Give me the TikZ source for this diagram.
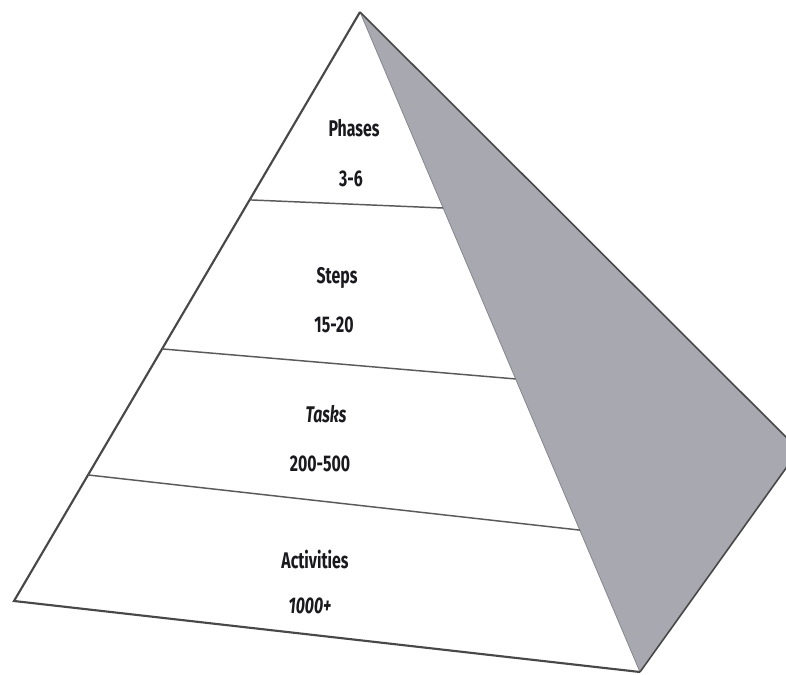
\documentclass[tikz,border=0pt]{standalone}
\usepackage{fontspec}
\setmainfont{Fira Sans}
\usetikzlibrary{calc}
\definecolor{facegrey}{RGB}{168,168,177}
\definecolor{edgegrey}{RGB}{72,72,72}
\definecolor{inkc}{RGB}{25,25,30}
\tikzset{
  edge/.style={draw=edgegrey, line width=1.6pt, line join=miter},
  divider/.style={draw=edgegrey!90, line width=1.1pt},
  lbl/.style={inner sep=0pt, text=inkc, font=\fontsize{17}{20}\selectfont\bfseries},
}
\newcommand{\cond}[1]{\scalebox{0.7}[1]{#1}}
\begin{document}
\begin{tikzpicture}[x=0.75pt, y=-0.75pt]
\useasboundingbox (0,0) rectangle (786,675);
\clip (0,0) rectangle (786,675);
\fill[white] (0,0) rectangle (786,675);
% corners
\coordinate (apex) at (360,12);
\coordinate (bl) at (14,601);
\coordinate (bf) at (640,672);
\coordinate (bb) at (799,450);
% grey side face
\fill[facegrey] (apex) -- (bb) -- (bf) -- cycle;
\draw[draw=facegrey!80!black, line width=0.6pt] (apex) -- (bf);
\draw[edge, line width=1.2pt] (apex) -- (bb) -- (bf);
% front face
\draw[edge] (bf) -- (bl) -- (apex);
% dividers
\coordinate (l1) at ($(apex)!0.319!(bl)$);
\coordinate (r1) at ($(apex)!0.297!(bf)$);
\coordinate (l2) at ($(apex)!0.572!(bl)$);
\coordinate (r2) at ($(apex)!0.556!(bf)$);
\coordinate (l3) at ($(apex)!0.786!(bl)$);
\coordinate (r3) at ($(apex)!0.785!(bf)$);
\draw[divider] (l1) -- (r1);
\draw[divider] (l2) -- (r2);
\draw[divider] (l3) -- (r3);
% labels
\node[lbl] (phases) at (354,128) {\cond{Phases}};
\node[lbl] (phn) at (351,179) {\cond{3-6}};
\node[lbl] (steps) at (337,278) {\cond{Steps}};
\node[lbl] (stn) at (334,325) {\cond{15-20}};
\node[lbl] (tasks) at (326,414) {\cond{\itshape Tasks}};
\node[lbl] (tan) at (320,464) {\cond{200-500}};
\node[lbl] (acts) at (315,559) {\cond{Activities}};
\node[lbl] (acn) at (310,606) {\cond{\itshape 1000+}};
\end{tikzpicture}
\end{document}
